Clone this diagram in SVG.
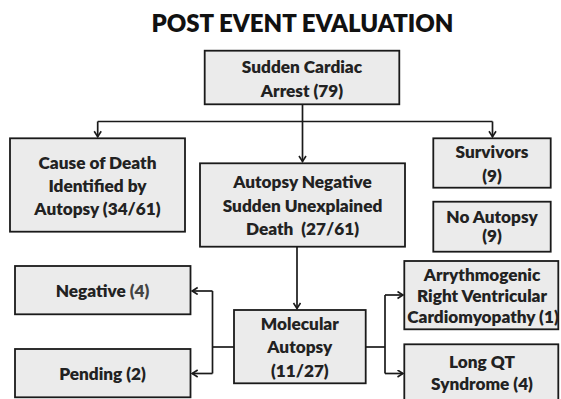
<svg xmlns="http://www.w3.org/2000/svg" width="561" height="399" viewBox="0 0 561 399">
<defs>
<marker id="arr" markerWidth="8" markerHeight="10" refX="6.5" refY="4" orient="auto" markerUnits="userSpaceOnUse">
<path d="M1,0.5 L6.5,4 L1,7.5" fill="none" stroke="#1a1a1a" stroke-width="1.6"/>
</marker>
</defs>
<style>
.box{fill:#ebebeb;stroke:#1a1a1a;stroke-width:1.8}
.t{font-family:Lato,"Open Sans","Liberation Sans",sans-serif;font-weight:800;font-size:17.2px;fill:#222;text-anchor:middle}
.title{font-family:Lato,"Open Sans","Liberation Sans",sans-serif;font-weight:800;font-size:24px;fill:#111;text-anchor:middle}
.c{fill:none;stroke:#1a1a1a;stroke-width:1.7}
.g{fill:#444}
</style>
<rect width="561" height="399" fill="#fff"/>
<text class="title" x="302.5" y="32.3">POST EVENT EVALUATION</text>

<g id="connectors" class="c">
<path d="M302.5,104.3 V161.5" marker-end="url(#arr)"/>
<path d="M97.7,121.5 H492.5"/>
<path d="M97.7,121.5 V136.8" marker-end="url(#arr)"/>
<path d="M492.5,121.5 V136.8" marker-end="url(#arr)"/>
<path d="M297,246.7 V308.5" marker-end="url(#arr)"/>
<path d="M234,347 H212.5"/>
<path d="M212.5,291 V373.5"/>
<path d="M212.5,291 H192.2" marker-end="url(#arr)"/>
<path d="M212.5,373.5 H192.2" marker-end="url(#arr)"/>
<path d="M365.7,347 H385"/>
<path d="M385,295 V373.5"/>
<path d="M385,295 H403" marker-end="url(#arr)"/>
<path d="M385,373.5 H403" marker-end="url(#arr)"/>
</g>

<g id="sca">
<rect class="box" x="204.7" y="50.7" width="194.6" height="53.6"/>
<text class="t" x="302" y="73.3">Sudden Cardiac</text>
<text class="t" x="302" y="96.7">Arrest (79)</text>
</g>

<g id="cause">
<rect class="box" x="10" y="138.3" width="175" height="93.4"/>
<text class="t" x="97.5" y="169">Cause of Death</text>
<text class="t" x="97.5" y="192">Identified by</text>
<text class="t" x="97.5" y="215">Autopsy (34/61)</text>
</g>

<g id="autopsy-negative">
<rect class="box" x="200" y="163.3" width="205" height="83.4"/>
<text class="t" x="302.5" y="188.3">Autopsy Negative</text>
<text class="t" x="302.5" y="211.7">Sudden Unexplained</text>
<text class="t" x="302.5" y="235" xml:space="preserve">Death  (27/61)</text>
</g>

<g id="survivors">
<rect class="box" x="433.3" y="138.3" width="117.4" height="49.4"/>
<text class="t" x="492" y="158.3">Survivors</text>
<text class="t" x="492" y="182">(9)</text>
</g>

<g id="no-autopsy">
<rect class="box" x="433.3" y="201.7" width="117.4" height="50"/>
<text class="t" x="492" y="223">No Autopsy</text>
<text class="t" x="492" y="242">(9)</text>
</g>

<g id="molecular">
<rect class="box" x="234" y="310" width="131.7" height="73.3"/>
<text class="t" x="299.8" y="330">Molecular</text>
<text class="t" x="299.8" y="353.3">Autopsy</text>
<text class="t" x="299.8" y="377">(11/27)</text>
</g>

<g id="negative">
<rect class="box" x="15" y="266" width="175.5" height="48.3"/>
<text class="t" x="102.5" y="296.7">Negative <tspan class="g">(4)</tspan></text>
</g>

<g id="pending">
<rect class="box" x="15" y="349" width="175.5" height="48.3"/>
<text class="t" x="102.5" y="380">Pending (2)</text>
</g>

<g id="arvc">
<rect class="box" x="404.3" y="261" width="154" height="68.3"/>
<text class="t" x="482" y="280.5">Arrythmogenic</text>
<text class="t" x="482" y="302">Right Ventricular</text>
<text class="t" x="483" y="322.5">Cardiomyopathy (1)</text>
</g>

<g id="longqt">
<rect class="box" x="404.3" y="344.3" width="154" height="60"/>
<text class="t" x="482" y="368.3">Long QT</text>
<text class="t" x="482" y="390">Syndrome (4)</text>
</g>
</svg>
